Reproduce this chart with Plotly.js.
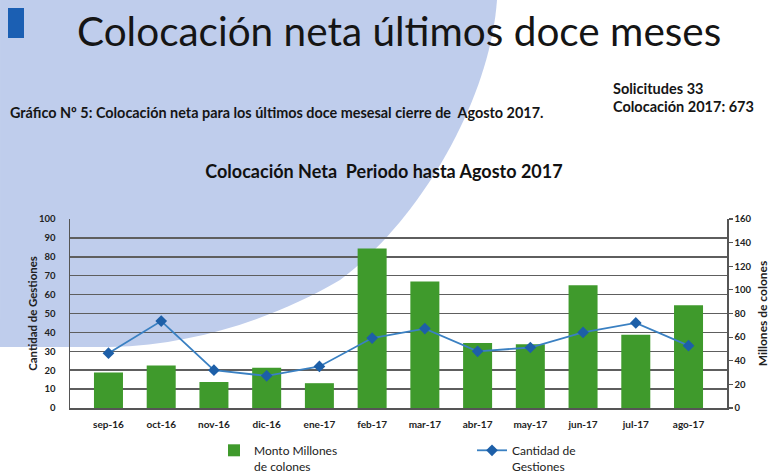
<!DOCTYPE html>
<html>
<head>
<meta charset="utf-8">
<script src="https://cdn.plot.ly/plotly-3.0.1.min.js"></script>
<style>
  html, body { margin: 0; padding: 0; background: #ffffff; }
  #chart { width: 770px; height: 474px; }
</style>
</head>
<body>
<div id="chart"></div>
<script>
// ---- data ----
var months = ['sep-16','oct-16','nov-16','dic-16','ene-17','feb-17','mar-17','abr-17','may-17','jun-17','jul-17','ago-17'];
var montoMillones = [30, 36, 22, 34, 21, 135, 107, 55, 54, 104, 62, 87];
var cantidadGestiones = [29, 46, 20, 17, 22, 37, 42, 30, 32, 40, 45, 33];
var leftTicks = [0, 10, 20, 30, 40, 50, 60, 70, 80, 90, 100];
var rightTicks = [0, 20, 40, 60, 80, 100, 120, 140, 160];

// ---- layout helpers (pixel -> paper) ----
var W = 770, H = 474;
var mL = 70, mR = 43, mT = 219, mB = 66;
var pw = W - mL - mR, ph = H - mT - mB;
function px(x) { return (x - mL) / pw; }
function py(y) { return (H - mB - y) / ph; }

var FONT = 'Lato, "Open Sans", sans-serif';

// light blue decorative background shape (pixel coords -> paper)
function P(x, y) { return px(x).toFixed(4) + ',' + py(y).toFixed(4); }
var bgPath = 'M' + P(0,0) + ' L' + P(497,0) +
  ' C' + P(490,100) + ' ' + P(420,220) + ' ' + P(340,280) +
  ' C' + P(280,315) + ' ' + P(200,345) + ' ' + P(110,347) +
  ' L' + P(0,347) + ' Z';

var traces = [
  {
    type: 'bar',
    name: 'Monto Millones<br>de colones',
    x: months,
    y: montoMillones,
    yaxis: 'y',
    marker: { color: '#3f9a2c', line: { width: 0 } },
    hoverinfo: 'x+y'
  },
  {
    type: 'scatter',
    mode: 'lines+markers',
    name: 'Cantidad de<br>Gestiones',
    x: months,
    y: cantidadGestiones,
    yaxis: 'y2',
    line: { color: '#3a80c2', width: 1.8 },
    marker: { symbol: 'diamond', size: 9, color: '#1d5fa8' }
  }
];

var layout = {
  width: W, height: H,
  margin: { l: mL, r: mR, t: mT, b: mB, pad: 0, autoexpand: false },
  paper_bgcolor: 'rgba(0,0,0,0)',
  plot_bgcolor: 'rgba(0,0,0,0)',
  font: { family: FONT, color: '#222' },
  showlegend: true,
  bargap: 0.45,
  title: {
    text: '<b>Colocación Neta  Periodo hasta Agosto 2017</b>',
    font: { family: FONT, size: 18, color: '#111' },
    x: 384 / W, xref: 'container', xanchor: 'center',
    y: 1 - 172 / H, yref: 'container', yanchor: 'middle'
  },
  xaxis: {
    type: 'category',
    categoryorder: 'array',
    categoryarray: months,
    showgrid: false,
    showline: true, linecolor: '#555', linewidth: 1.5,
    ticks: '',
    ticklabelstandoff: 6,
    tickfont: { family: FONT, size: 10, color: '#222', weight: 'bold' },
    fixedrange: true
  },
  yaxis: {
    side: 'right',
    range: [0, 160],
    tickvals: rightTicks,
    ticktext: rightTicks.map(String),
    showgrid: false,
    zeroline: false,
    showline: true, linecolor: '#555', linewidth: 1.5,
    ticks: 'outside', ticklen: 4, tickcolor: '#555', tickwidth: 1.2,
    tickfont: { family: FONT, size: 9.5, color: '#222', weight: 'bold' },
    title: { text: '<b>Millones de colones</b>', font: { family: FONT, size: 12, color: '#222' }, standoff: 24 },
    fixedrange: true
  },
  yaxis2: {
    overlaying: 'y',
    side: 'left',
    range: [0, 100],
    tickvals: leftTicks,
    ticktext: leftTicks.map(String),
    showgrid: true, gridcolor: '#5e5e5e', gridwidth: 1.5,
    zeroline: false,
    showline: true, linecolor: '#555', linewidth: 1.5,
    ticks: '',
    ticklabelstandoff: 11,
    tickfont: { family: FONT, size: 9.5, color: '#222', weight: 'bold' },
    title: { text: '<b>Cantidad de Gestiones</b>', font: { family: FONT, size: 11.4, color: '#222' } },
    fixedrange: true
  },
  legend: {
    orientation: 'h',
    x: px(214), xanchor: 'left',
    y: py(436), yanchor: 'top',
    xref: 'paper', yref: 'paper',
    entrywidth: 213,
    valign: 'top',
    font: { family: FONT, size: 12, color: '#222' },
    bgcolor: 'rgba(0,0,0,0)',
    traceorder: 'normal'
  },
  shapes: [
    { type: 'path', xref: 'paper', yref: 'paper', path: bgPath,
      fillcolor: '#bfcdec', line: { width: 0 }, layer: 'below' },
    { type: 'rect', xref: 'paper', yref: 'paper',
      x0: px(8), x1: px(24), y0: py(8), y1: py(38),
      fillcolor: '#1b5fb3', line: { width: 0 }, layer: 'below' }
  ],
  annotations: [
    { text: 'Colocación neta últimos doce meses', xref: 'paper', yref: 'paper',
      x: px(75), y: py(30), xanchor: 'left', yanchor: 'middle', showarrow: false,
      font: { family: FONT, size: 40.5, color: '#151515' } },
    { text: 'Gráfico Nº 5: Colocación neta para los últimos doce mesesal cierre de  Agosto 2017.',
      xref: 'paper', yref: 'paper', x: px(8), y: py(112), xanchor: 'left', yanchor: 'middle',
      showarrow: false, font: { family: FONT, size: 14.4, color: '#151515', weight: 'bold' } },
    { text: 'Solicitudes 33', xref: 'paper', yref: 'paper', x: px(611), y: py(88),
      xanchor: 'left', yanchor: 'middle', showarrow: false,
      font: { family: FONT, size: 14.5, color: '#151515', weight: 'bold' } },
    { text: 'Colocación 2017: 673', xref: 'paper', yref: 'paper', x: px(611), y: py(106),
      xanchor: 'left', yanchor: 'middle', showarrow: false,
      font: { family: FONT, size: 14.5, color: '#151515', weight: 'bold' } }
  ]
};

Plotly.newPlot('chart', traces, layout, { displayModeBar: false, staticPlot: true });
</script>
</body>
</html>
